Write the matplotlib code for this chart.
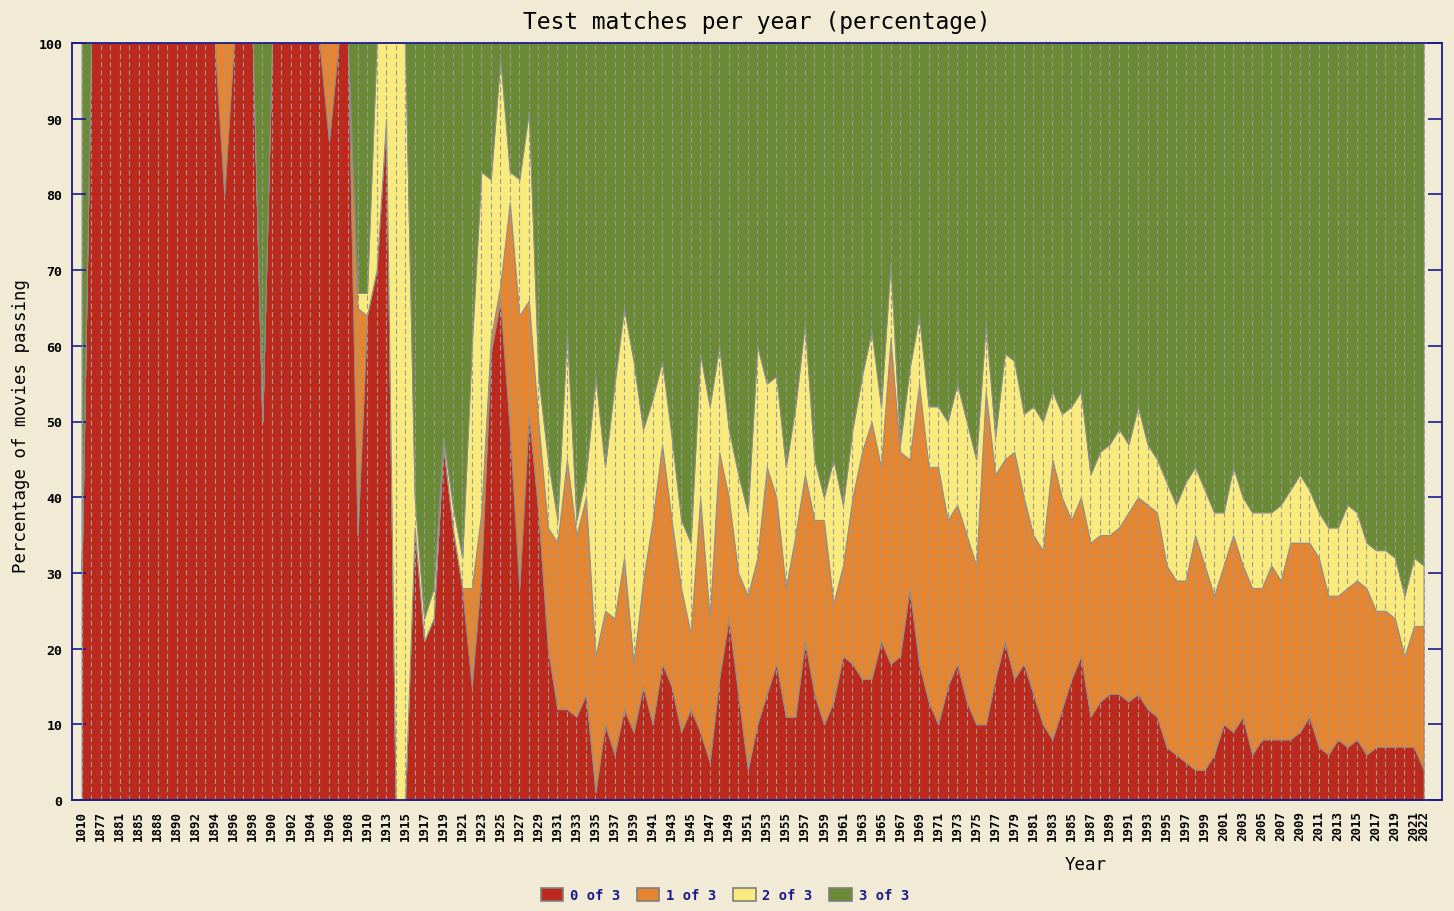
import numpy as np
import matplotlib.pyplot as plt
from matplotlib.patches import Patch

# categories (years that have films), 1915 onwards every year
years = (["1010", "1874", "1877", "1879", "1881", "1883", "1885", "1887"]
         + [str(y) for y in range(1888, 1911)]
         + ["1912", "1913", "1914"]
         + [str(y) for y in range(1915, 2023)])

# percentage of movies passing 0, 1, 2 or 3 of the test criteria
zero3 = [30, 100, 100, 100, 100, 100, 100, 100, 100, 100, 100, 100, 100, 100, 100, 80, 100, 100, 100, 50,
         100, 100, 100, 100, 100, 100, 87, 100, 100, 35, 64, 70, 90, 0,
         0, 36, 21, 24, 47, 36, 28, 15, 30, 59, 66, 49, 28, 51, 38,
         20, 12, 12, 11, 14, 1, 10, 6, 12, 9,
         15, 10, 18, 15, 9, 12, 9, 5, 16, 24,
         14, 4, 10, 14, 18, 11, 11, 21, 14, 10,
         13, 19, 18, 16, 16, 21, 18, 19, 28, 18,
         13, 10, 15, 18, 13, 10, 10, 16, 21, 16,
         18, 14, 10, 8, 12, 16, 19, 11, 13, 14,
         14, 13, 14, 12, 11, 7, 6, 5, 4, 4,
         6, 10, 9, 11, 6, 8, 8, 8, 8, 9,
         11, 7, 6, 8, 7, 8, 6, 7, 7, 7,
         7, 7, 4]
one3 = [0, 0, 0, 0, 0, 0, 0, 0, 0, 0, 0, 0, 0, 0, 0, 20, 0, 0, 0, 0,
        0, 0, 0, 0, 0, 0, 13, 0, 0, 30, 0, 0, 0, 0,
        0, 0, 0, 0, 0, 0, 0, 13, 8, 2, 2, 30, 36, 15, 12,
        16, 22, 33, 24, 26, 18, 15, 18, 20, 9,
        14, 27, 29, 22, 19, 10, 31, 19, 30, 16,
        16, 23, 22, 30, 22, 17, 24, 22, 23, 27,
        13, 12, 22, 30, 34, 23, 43, 27, 17, 37,
        31, 34, 22, 21, 22, 21, 44, 27, 24, 30,
        22, 21, 23, 37, 28, 21, 21, 23, 22, 21,
        22, 25, 26, 27, 27, 24, 23, 24, 31, 27,
        21, 21, 26, 20, 22, 20, 23, 21, 26, 25,
        23, 25, 21, 19, 21, 21, 22, 18, 18, 17,
        12, 16, 19]
two3 = [0, 0, 0, 0, 0, 0, 0, 0, 0, 0, 0, 0, 0, 0, 0, 0, 0, 0, 0, 0,
        0, 0, 0, 0, 0, 0, 0, 0, 0, 2, 3, 30, 10, 100,
        100, 4, 3, 4, 1, 3, 4, 32, 45, 21, 30, 4, 18, 25, 6,
        9, 3, 17, 2, 3, 37, 19, 31, 33, 40,
        20, 16, 11, 11, 9, 12, 19, 28, 14, 9,
        13, 11, 28, 11, 16, 16, 17, 20, 8, 3,
        19, 8, 9, 10, 12, 8, 10, 1, 12, 9,
        8, 8, 13, 16, 15, 14, 9, 5, 14, 12,
        11, 17, 17, 9, 11, 15, 14, 9, 11, 12,
        13, 9, 12, 8, 7, 11, 10, 13, 9, 10,
        11, 7, 9, 9, 10, 10, 7, 10, 7, 9,
        7, 6, 9, 9, 11, 9, 6, 8, 8, 8,
        8, 9, 8]
three3 = [70, 0, 0, 0, 0, 0, 0, 0, 0, 0, 0, 0, 0, 0, 0, 0, 0, 0, 0, 50,
          0, 0, 0, 0, 0, 0, 0, 0, 0, 33, 33, 0, 0, 0,
          0, 60, 76, 72, 52, 61, 68, 40, 17, 18, 2, 17, 18, 9, 44,
          55, 63, 38, 63, 57, 44, 56, 45, 35, 42,
          51, 47, 42, 52, 63, 66, 41, 48, 40, 51,
          57, 62, 40, 45, 44, 56, 48, 37, 55, 60,
          55, 61, 51, 44, 38, 48, 29, 53, 43, 36,
          48, 48, 50, 45, 50, 55, 37, 52, 41, 42,
          49, 48, 50, 46, 49, 48, 46, 57, 54, 53,
          51, 53, 48, 53, 55, 58, 61, 58, 56, 59,
          62, 62, 56, 60, 62, 62, 62, 61, 59, 57,
          59, 62, 64, 64, 61, 62, 66, 67, 67, 68,
          73, 68, 69]

labels = ["0 of 3", "1 of 3", "2 of 3", "3 of 3"]
colors = ["#bb2a1d", "#e68530", "#f8ea7d", "#6b8a36"]
bg = "#f1ebd6"
navy = "#1a1a8c"
mono = "DejaVu Sans Mono"

fig = plt.figure(figsize=(14.54, 9.12), dpi=100, facecolor=bg)
ax = fig.add_axes([72 / 1454, 1 - 801 / 912, 1370 / 1454, 757 / 912])
ax.set_facecolor(bg)

x = np.arange(len(years))
ax.stackplot(x, zero3, one3, two3, three3, colors=colors,
             edgecolor="#8c8c8c", linewidth=0.7)
# dashed guide line on every category
ax.vlines(x, 0, 100, colors="#9a9a9a", linestyles=(0, (4.5, 3.0)), linewidth=0.8)

ax.set_xlim(-1.0, len(years) + 0.94)
ax.set_ylim(0, 100)

tick_idx = list(range(0, len(years), 2))
if tick_idx[-1] != len(years) - 1:
    tick_idx.append(len(years) - 1)
ax.set_xticks(tick_idx)
ax.set_xticklabels([years[i] for i in tick_idx], rotation=90, family=mono,
                   fontsize=9, fontweight="bold")
ax.tick_params(axis="x", length=0, pad=7)

ax.set_yticks(range(0, 101, 10))
ax.set_yticklabels([str(v) for v in range(0, 101, 10)], family=mono,
                   fontsize=9.5, fontweight="bold")
ax.tick_params(axis="y", direction="in", length=10, width=1.2, color=navy,
               right=True, pad=7)

for s in ax.spines.values():
    s.set_color(navy)
    s.set_linewidth(1.3)

fig.text(0.5207, 0.975, "Test matches per year (percentage)", family=mono,
         fontsize=16.5, ha="center", va="center")
fig.text(0.0145, 0.533, "Percentage of movies passing", family=mono,
         fontsize=12.5, rotation=90, ha="center", va="center")
fig.text(0.747, 0.0515, "Year", family=mono, fontsize=12.5,
         ha="center", va="center")

handles = [Patch(facecolor=c, edgecolor="#808080", linewidth=1.2) for c in colors]
fig.legend(handles, labels, loc="center", bbox_to_anchor=(0.4986, 0.0175),
           ncol=4, frameon=False, handlelength=1.6, handleheight=1.1,
           handletextpad=0.5, columnspacing=1.2, labelcolor=navy,
           prop={"family": mono, "size": 10, "weight": "bold"})

fig.savefig("out.png", dpi=100, facecolor=bg)
